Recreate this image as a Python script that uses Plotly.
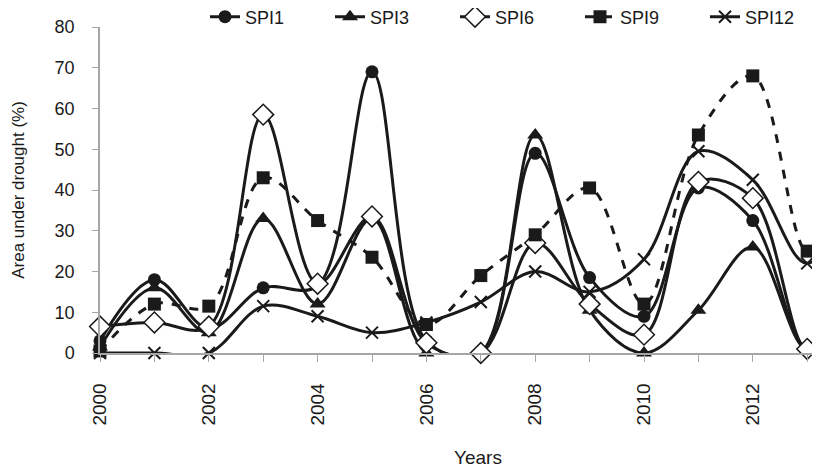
import plotly.graph_objects as go

years = list(range(2000, 2015))

spi1 = [3, 18, 6, 16, 16.5, 69, 3, 0, 49, 18.5, 9, 40.5, 32.5, 1, 35]
spi3 = [1.5, 16, 5, 33, 12, 33, 0, 0, 53.5, 10.5, 0, 10.5, 26, 1, 28]
spi6 = [6.5, 7.5, 6.5, 58.5, 17, 33.5, 2.5, 0, 27, 12, 4.5, 42, 38, 1, 38]
spi9 = [0.5, 12, 11.5, 43, 32.5, 23.5, 7, 19, 29, 40.5, 12, 53.5, 68, 25, 75]
spi12 = [0, 0, 0, 11.5, 9, 5, 7.5, 12.5, 20, 15, 23, 49.5, 42.5, 22, 45]

INK = "#1a1a1a"
FONT = "Liberation Sans, Arial, sans-serif"

series = [
    ("SPI1", spi1, dict(symbol="circle", size=13, color=INK), "solid"),
    ("SPI3", spi3, dict(symbol="triangle-up", size=14, color=INK), "solid"),
    ("SPI6", spi6, dict(symbol="diamond", size=16, color="white",
                        line=dict(color=INK, width=1.5)), "solid"),
    ("SPI9", spi9, dict(symbol="square", size=13, color=INK), "dash"),
    ("SPI12", spi12, dict(symbol="x-thin", size=12, color=INK,
                          line=dict(color=INK, width=2)), "solid"),
]

fig = go.Figure()
for name, vals, mk, dash in series:
    fig.add_trace(go.Scatter(
        x=years, y=vals, name=name, mode="lines+markers",
        line=dict(color=INK, width=3, shape="spline", smoothing=1, dash=dash),
        marker=mk, cliponaxis=False,
    ))

# page body adds an 8px offset; plot area placed so it lands at window px 100..820 / 27..353.5
PL, PW, PT, PH = 92, 720, 19, 326.5
OFF = 8

fig.update_layout(
    width=820, height=470,
    margin=dict(l=PL, r=820 - PL - PW, t=PT, b=470 - PT - PH, autoexpand=False),
    paper_bgcolor="white", plot_bgcolor="white",
    font=dict(family=FONT, size=18, color=INK),
    showlegend=True,
    legend=dict(orientation="h", x=(205 - OFF - PL) / PW, xanchor="left",
                y=1 + (PT - (17 - OFF)) / PH, yanchor="middle",
                font=dict(size=18), entrywidth=80, entrywidthmode="pixels",
                itemwidth=30, bgcolor="rgba(0,0,0,0)"),
    annotations=[dict(text="Years", x=(478 - OFF - PL) / PW,
                      y=-((458 - OFF) - (PT + PH)) / PH,
                      xref="paper", yref="paper", xanchor="center", yanchor="middle",
                      showarrow=False, font=dict(size=19))],
)

fig.update_xaxes(
    range=[2000, 2000 + PW / 54.4], tickmode="linear", tick0=2000, dtick=2,
    showline=True, linecolor="#a6a6a6", linewidth=1.5,
    ticks="outside", ticklen=7, tickcolor="#a6a6a6",
    minor=dict(dtick=1, tick0=2000, ticks="outside", ticklen=7, tickcolor="#a6a6a6"),
    tickangle=-90, tickfont=dict(size=19), ticklabelstandoff=14,
    showgrid=False, zeroline=False, automargin=False,
)
fig.update_yaxes(
    range=[0, 80], tickmode="linear", tick0=0, dtick=10,
    showline=True, linecolor="#a6a6a6", linewidth=1.5,
    ticks="outside", ticklen=6, tickcolor="#a6a6a6",
    tickfont=dict(size=18), ticklabelstandoff=14,
    title=dict(text="Area under drought (%)", font=dict(size=17), standoff=26),
    showgrid=False, zeroline=False, automargin=False,
)

fig.write_html("out.html")
